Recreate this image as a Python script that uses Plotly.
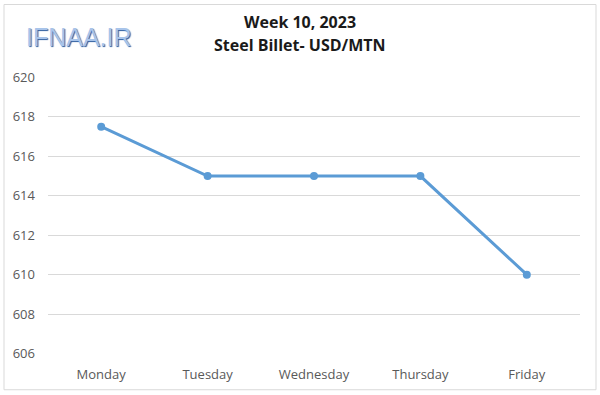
import plotly.graph_objects as go

days = ["Monday", "Tuesday", "Wednesday", "Thursday", "Friday"]
prices = [617.5, 615, 615, 615, 610]
y_ticks = [606, 608, 610, 612, 614, 616, 618, 620]

fig = go.Figure()
fig.add_trace(go.Scatter(
    x=days, y=prices, mode="lines+markers",
    line=dict(color="#5B9BD5", width=3),
    marker=dict(color="#5B9BD5", size=8),
    showlegend=False,
))

font_main = "Open Sans, Noto Sans, sans-serif"
fig.update_layout(
    width=600, height=395,
    margin=dict(l=48, r=20, t=77, b=39),
    paper_bgcolor="white", plot_bgcolor="white",
    xaxis=dict(
        range=[-0.5, 4.5], showgrid=False, zeroline=False, showline=False,
        tickfont=dict(family=font_main, size=13, color="#595959"),
        ticks="", ticklabelstandoff=11,
    ),
    yaxis=dict(
        range=[605.98, 620.02], tickvals=y_ticks, showgrid=True,
        gridcolor="#D9D9D9", gridwidth=1, zeroline=False, showline=False,
        tickfont=dict(family=font_main, size=13, color="#595959"),
        ticks="", ticklabelstandoff=12,
    ),
    annotations=[
        dict(text="<b>Week 10, 2023</b>", xref="paper", yref="paper",
             x=(300 - 48) / 532, y=(356 - 22) / 279, showarrow=False,
             font=dict(family=font_main, size=16, color="#1a1a1a"),
             xanchor="center", yanchor="middle"),
        dict(text="<b>Steel Billet- USD/MTN</b>", xref="paper", yref="paper",
             x=(300 - 48) / 532, y=(356 - 45) / 279, showarrow=False,
             font=dict(family=font_main, size=16, color="#1a1a1a"),
             xanchor="center", yanchor="middle"),
        dict(text="IFNAA.IR", xref="paper", yref="paper",
             x=(24 - 48) / 532, y=(356 - 37) / 279, showarrow=False,
             font=dict(family="Liberation Sans, sans-serif", size=25, color="#A8C4EA",
                       shadow="1px 1px 1px #2E5C9E"),
             xanchor="left", yanchor="middle"),
    ],
    shapes=[
        dict(type="rect", xref="paper", yref="paper",
             x0=(4 - 48) / 532, x1=(596 - 48) / 532,
             y0=(356 - 392) / 279, y1=(356 - 4) / 279,
             line=dict(color="#D9D9D9", width=1), layer="below"),
    ],
)

fig.write_html("out.html", config={"displayModeBar": False},
               post_script="document.body.style.margin='0';")
